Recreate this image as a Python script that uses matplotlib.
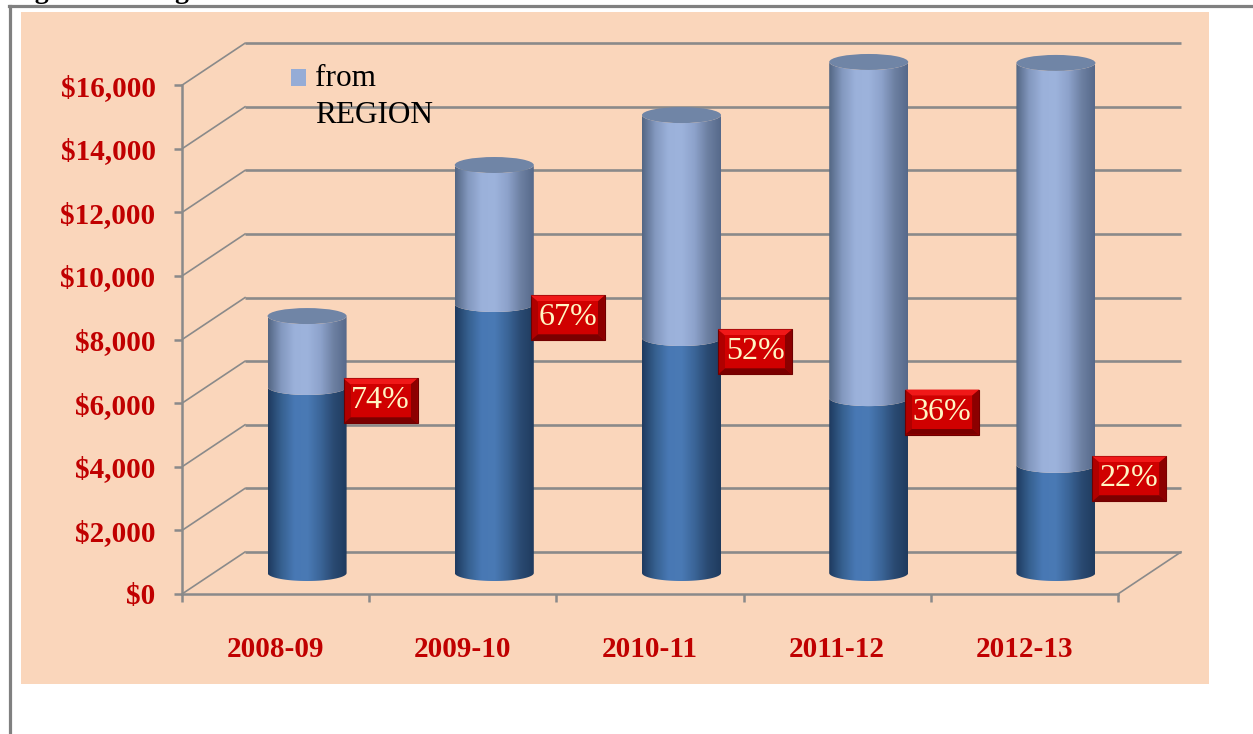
import numpy as np
import matplotlib
matplotlib.use("Agg")
import matplotlib.pyplot as plt
from matplotlib.colors import LinearSegmentedColormap
from matplotlib.lines import Line2D
from matplotlib.patches import Ellipse, PathPatch, Polygon, Rectangle
from matplotlib.path import Path

# ---- data ----
years = ["2008-09", "2009-10", "2010-11", "2011-12", "2012-13"]
local_vals = [5850, 8460, 7390, 5500, 3400]        # darker lower part
region_vals = [2230, 4370, 7010, 10570, 12640]     # "from REGION" upper part
shares = ["74%", "67%", "52%", "36%", "22%"]
y_ticks = [0, 2000, 4000, 6000, 8000, 10000, 12000, 14000, 16000]

plt.rcParams["font.family"] = ["Liberation Serif", "DejaVu Serif"]

W, H = 1253, 734
RED = "#c00000"
GRID = "#8a8a8a"
PEACH = "#fad6bb"

fig = plt.figure(figsize=(W / 100, H / 100), dpi=100)
fig.patch.set_facecolor("white")

# peach panel and the outer frame
fig.add_artist(Rectangle((21 / W, 50 / H), 1188 / W, 672 / H,
                         transform=fig.transFigure, facecolor=PEACH,
                         edgecolor="none", zorder=-10))
fig.add_artist(Line2D([9 / W, 1], [1 - 6 / H, 1 - 6 / H], transform=fig.transFigure,
                      color="#808080", lw=2.3))
fig.add_artist(Line2D([10 / W, 10 / W], [0, 1 - 6 / H], transform=fig.transFigure,
                      color="#808080", lw=2.3))
# caption above the frame, only its descenders are in view
fig.text(10 / W, 1 + 2 / H, "Figure 3: Budget", fontsize=20, fontweight="bold",
         va="baseline", ha="left", color="black")

# axes: x in category units, y in dollars; 3D depth shifts in data units
PX_X = 187.2            # pixels per category
PX_Y = 63.6 / 2000      # pixels per dollar
ax = fig.add_axes([182 / W, 140 / H, 1020 / W, 560 / H])
ax.set_facecolor("none")
DX = 63 / PX_X
DY = 42 / PX_Y
HW = 39.5 / PX_X        # cylinder half width
EH = 16 / PX_Y          # ellipse height

n = len(years)

# back wall gridlines + diagonals
for v in y_ticks:
    ax.plot([DX, n + DX], [v + DY, v + DY], color=GRID, lw=1.9, zorder=1,
            solid_capstyle="butt")
    ax.plot([0, DX], [v, v + DY], color=GRID, lw=1.2, zorder=1)
ax.plot([n, n + DX], [0, DY], color=GRID, lw=1.2, zorder=1)

dark_cmap = LinearSegmentedColormap.from_list(
    "dark", ["#1e3a5f", "#36608f", "#4878b4", "#4a7ab5", "#3b6598", "#2a4a72", "#1f3b5e"])
light_cmap = LinearSegmentedColormap.from_list(
    "light", ["#536683", "#8398bf", "#9bb1da", "#9db3dc", "#8da2cb", "#6d80a2", "#56698a"])
grad = np.linspace(0, 1, 256).reshape(1, -1)


def front_face(xc, y_lo, y_hi):
    t1 = np.linspace(np.pi, 2 * np.pi, 60)
    t2 = t1[::-1]
    xs = np.concatenate([[xc - HW], xc + HW * np.cos(t1), [xc + HW],
                         xc + HW * np.cos(t2)])
    ys = np.concatenate([[y_hi], y_lo + EH / 2 * np.sin(t1), [y_hi],
                         y_hi + EH / 2 * np.sin(t2)])
    return Path(np.column_stack([xs, ys]), closed=False)


def shaded_segment(xc, y_lo, y_hi, cmap, z):
    clip = PathPatch(front_face(xc, y_lo, y_hi), transform=ax.transData)
    im = ax.imshow(grad, cmap=cmap, aspect="auto", interpolation="bilinear",
                   extent=[xc - HW, xc + HW, y_lo - EH, y_hi + EH], zorder=z)
    im.set_clip_path(clip)


base = DY / 2
for i in range(n):
    xc = i + 0.5 + DX / 2
    y1 = base + local_vals[i]
    y2 = y1 + region_vals[i]
    shaded_segment(xc, base, y1, dark_cmap, 3)
    shaded_segment(xc, y1, y2, light_cmap, 3)
    ax.add_patch(Ellipse((xc, y2), 2 * HW, EH, facecolor="#7085a6",
                         edgecolor="none", zorder=4))

    # bevelled red percentage box
    bw, bh = 74 / PX_X, 45 / PX_Y
    bx = xc + HW - 3 / PX_X
    by = y1 - 14 / PX_Y - bh / 2
    ix, iy = 7 / PX_X, 6 / PX_Y
    ax.add_patch(Rectangle((bx, by), bw, bh, facecolor="#b00000",
                           edgecolor="#6e0000", lw=0.8, zorder=5))
    ax.add_patch(Polygon([[bx, by + bh], [bx + bw, by + bh], [bx + bw - ix, by + bh - iy],
                          [bx + ix, by + bh - iy]], closed=True, facecolor="#f01818",
                         edgecolor="none", zorder=5))
    ax.add_patch(Polygon([[bx, by], [bx + bw, by], [bx + bw - ix, by + iy],
                          [bx + ix, by + iy]], closed=True, facecolor="#7a0000",
                         edgecolor="none", zorder=5))
    ax.add_patch(Polygon([[bx + bw, by], [bx + bw, by + bh], [bx + bw - ix, by + bh - iy],
                          [bx + bw - ix, by + iy]], closed=True, facecolor="#8c0000",
                         edgecolor="none", zorder=5))
    ax.add_patch(Rectangle((bx + ix, by + iy), bw - 2 * ix, bh - 2 * iy,
                           facecolor="#d00000", edgecolor="none", zorder=5))
    ax.text(bx + bw / 2, by + bh / 2, shares[i], ha="center", va="center",
            fontsize=23, color="#fff6c4", zorder=6)

# axes, ticks and labels
ax.set_xlim(0, 1020 / PX_X)
ax.set_ylim(0, 560 / PX_Y)
for side in ["top", "right"]:
    ax.spines[side].set_visible(False)
for side in ["left", "bottom"]:
    ax.spines[side].set_color(GRID)
    ax.spines[side].set_linewidth(1.8)
ax.spines["left"].set_bounds(0, y_ticks[-1])
ax.spines["bottom"].set_bounds(0, n)

ax.set_yticks(y_ticks, labels=[f"${v:,}" for v in y_ticks])
ax.tick_params(axis="y", length=6, width=1.8, color=GRID, pad=13,
               labelsize=21, labelcolor=RED)
for lab in ax.get_yticklabels():
    lab.set_fontweight("bold")

ax.set_xticks(np.arange(n) + 0.5, labels=years)
ax.set_xticks(np.arange(n + 1), minor=True)
ax.tick_params(axis="x", which="major", length=0, pad=30, labelsize=21,
               labelcolor=RED)
ax.tick_params(axis="x", which="minor", length=6, width=1.8, color=GRID)
for lab in ax.get_xticklabels():
    lab.set_fontweight("bold")

# legend
fig.add_artist(Rectangle((291 / W, 1 - 86 / H), 15 / W, 17 / H,
                         transform=fig.transFigure, facecolor="#95acd6",
                         edgecolor="none"))
fig.text(315 / W, 1 - 86 / H, "from", fontsize=22.5, va="baseline", ha="left")
fig.text(315 / W, 1 - 123 / H, "REGION", fontsize=22.5, va="baseline", ha="left")

fig.savefig("out.png", dpi=100)
